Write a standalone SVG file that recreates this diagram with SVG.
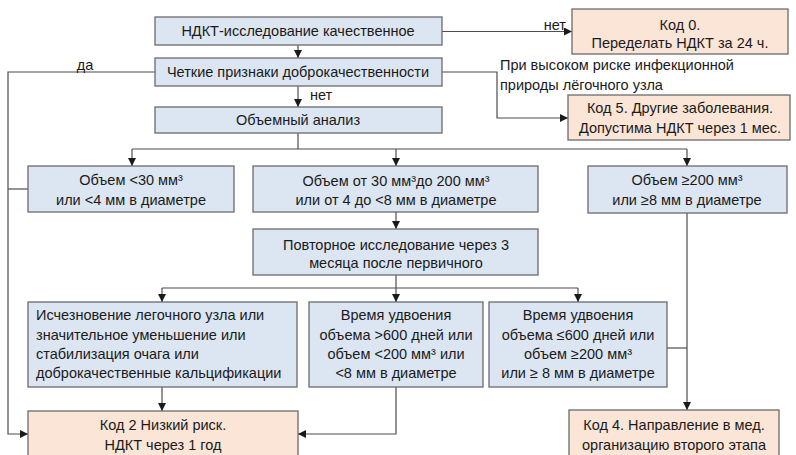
<svg xmlns="http://www.w3.org/2000/svg" width="796" height="455" viewBox="0 0 796 455">
<defs>
<marker id="ah" viewBox="0 0 8 8" refX="8" refY="4" markerWidth="8" markerHeight="8" markerUnits="userSpaceOnUse" orient="auto">
<path d="M0,0 L8,4 L0,8 Z" fill="#1a1a1a"/>
</marker>
</defs>
<style>
.b rect{fill:#dce6f2;stroke:#6b6b6b;stroke-width:1.3}
.p rect{fill:#fbe5d6;stroke:#6b6b6b;stroke-width:1.3}
text{font-family:"Liberation Sans",Arial,sans-serif;font-size:14.5px;fill:#1a1a1a}
.c{text-anchor:middle}
#connectors path{fill:none;stroke:#4d4d4d;stroke-width:1.2}
.a{marker-end:url(#ah)}
</style>
<rect width="796" height="455" fill="#ffffff"/>
<g id="connectors">
<path class="a" d="M298,45 V58"/>
<path class="a" d="M298,86 V107"/>
<path class="a" d="M442,31.5 H572"/>
<path class="a" d="M442,72 H497 V118 H568"/>
<path class="a" d="M155,72 H8 V434 H28"/>
<path d="M28,189 H8"/>
<path d="M298,133 V149"/>
<path d="M132,149 H687"/>
<path class="a" d="M132,149 V166"/>
<path class="a" d="M396,149 V166"/>
<path class="a" d="M687,149 V166"/>
<path class="a" d="M396,212 V229"/>
<path d="M396,275 V288"/>
<path d="M162,288 H578"/>
<path class="a" d="M162,288 V302"/>
<path class="a" d="M396,288 V302"/>
<path class="a" d="M578,288 V302"/>
<path class="a" d="M162,387 V411"/>
<path class="a" d="M396,387 V434 H298"/>
<path class="a" d="M687,213 V410"/>
<path d="M667,348 H687"/>
</g>
<g id="labels">
<text x="85" y="70" class="c">да</text>
<text x="310" y="100">нет</text>
<text x="566" y="30" text-anchor="end">нет</text>
<text x="500" y="70">При высоком риске инфекционной</text>
<text x="500" y="90">природы лёгочного узла</text>
</g>
<g id="n1" class="b"><rect x="155" y="17" width="287" height="28"/><text x="298" y="36" class="c">НДКТ-исследование качественное</text></g>
<g id="n2" class="b"><rect x="155" y="58" width="287" height="28"/><text x="298" y="77" class="c">Четкие признаки доброкачественности</text></g>
<g id="n3" class="b"><rect x="155" y="107" width="287" height="26"/><text x="298" y="125" class="c">Объемный анализ</text></g>
<g id="code0" class="p"><rect x="572" y="9" width="216" height="45"/><text x="680" y="30" class="c">Код 0.</text><text x="680" y="48" class="c">Переделать НДКТ за 24 ч.</text></g>
<g id="code5" class="p"><rect x="568" y="95" width="222" height="45"/><text x="680" y="113" class="c">Код 5. Другие заболевания.</text><text x="680" y="133" class="c">Допустима НДКТ через 1 мес.</text></g>
<g id="v1" class="b"><rect x="28" y="166" width="206" height="46"/><text x="131" y="185" class="c">Объем &lt;30 мм³</text><text x="131" y="205" class="c">или &lt;4 мм в диаметре</text></g>
<g id="v2" class="b"><rect x="253" y="166" width="285" height="46"/><text x="396" y="186" class="c">Объем от 30 мм³до 200 мм³</text><text x="396" y="205" class="c">или от 4 до &lt;8 мм в диаметре</text></g>
<g id="v3" class="b"><rect x="588" y="166" width="199" height="47"/><text x="687" y="185" class="c">Объем ≥200 мм³</text><text x="687" y="205" class="c">или ≥8 мм в диаметре</text></g>
<g id="rep" class="b"><rect x="253" y="229" width="285" height="46"/><text x="396" y="250" class="c">Повторное исследование через 3</text><text x="396" y="268" class="c">месяца после первичного</text></g>
<g id="ra" class="b"><rect x="28" y="302" width="269" height="85"/><text x="36" y="320">Исчезновение легочного узла или</text><text x="36" y="340">значительное уменьшение или</text><text x="36" y="359">стабилизация очага или</text><text x="36" y="378">доброкачественные кальцификации</text></g>
<g id="rb" class="b"><rect x="309" y="302" width="174" height="85"/><text x="396" y="320" class="c">Время удвоения</text><text x="396" y="340" class="c">объема &gt;600 дней или</text><text x="396" y="359" class="c">объем &lt;200 мм³ или</text><text x="396" y="378" class="c">&lt;8 мм в диаметре</text></g>
<g id="rc" class="b"><rect x="489" y="302" width="178" height="85"/><text x="578" y="320" class="c">Время удвоения</text><text x="578" y="340" class="c">объема ≤600 дней или</text><text x="578" y="359" class="c">объем ≥200 мм³</text><text x="578" y="378" class="c">или ≥ 8 мм в диаметре</text></g>
<g id="code2" class="p"><rect x="28" y="411" width="270" height="52"/><text x="163" y="430" class="c">Код 2 Низкий риск.</text><text x="163" y="450" class="c">НДКТ через 1 год</text></g>
<g id="code4" class="p"><rect x="569" y="410" width="210" height="53"/><text x="674" y="430" class="c">Код 4. Направление в мед.</text><text x="674" y="450" class="c">организацию второго этапа</text></g>
</svg>
